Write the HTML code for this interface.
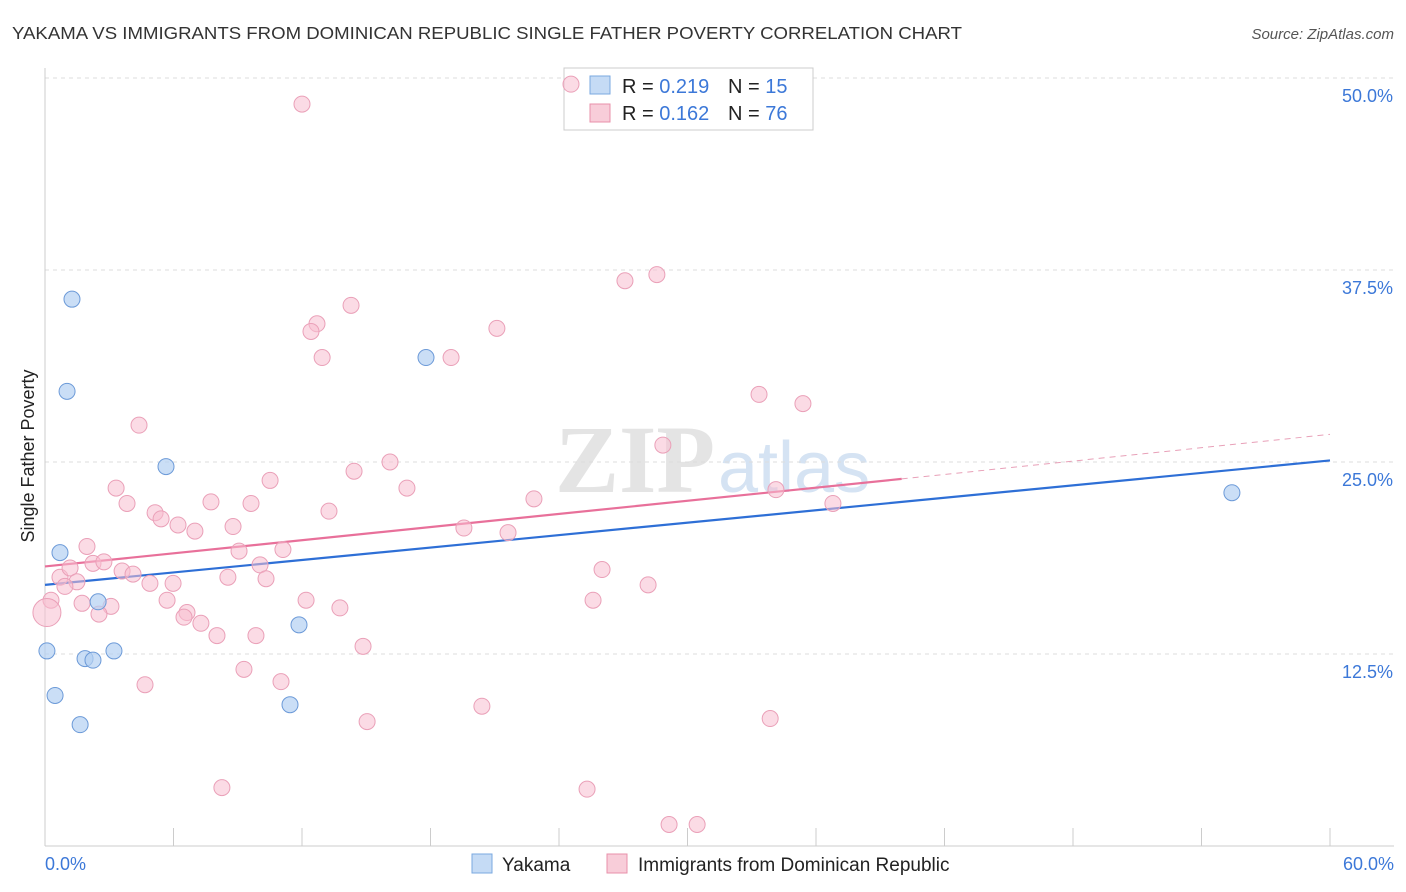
<!DOCTYPE html>
<html><head><meta charset="utf-8"><style>
body{margin:0;background:#fff;font-family:"Liberation Sans",sans-serif;}
svg{display:block}
</style></head><body>
<svg id="chart" width="1406" height="892">
<text x="12" y="39" font-size="17.5" fill="#333" textLength="950" lengthAdjust="spacingAndGlyphs">YAKAMA VS IMMIGRANTS FROM DOMINICAN REPUBLIC SINGLE FATHER POVERTY CORRELATION CHART</text>
<text x="1394" y="39" font-size="15" fill="#555" font-style="italic" text-anchor="end">Source: ZipAtlas.com</text>
<text x="715" y="492" font-size="96" fill="#e4e4e4" text-anchor="end" font-family="Liberation Serif" font-weight="bold">ZIP</text>
<text x="718" y="492" font-size="72" fill="#d5e3f3">atlas</text>
<g id="grid"></g><g id="axes"></g><g id="lines"></g>
<g>
<rect x="564" y="68" width="249" height="62" fill="#fff" stroke="#ccc"/>
<rect x="590" y="76" width="20" height="18" fill="#c5dbf5" stroke="#7aa8e0"/>
<text x="622" y="93" font-size="20" fill="#222">R = <tspan fill="#3c78d8">0.219</tspan></text>
<text x="728" y="93" font-size="20" fill="#222">N = <tspan fill="#3c78d8">15</tspan></text>
<rect x="590" y="104" width="20" height="18" fill="#f8cdd9" stroke="#e890aa"/>
<text x="622" y="120" font-size="20" fill="#222">R = <tspan fill="#3c78d8">0.162</tspan></text>
<text x="728" y="120" font-size="20" fill="#222">N = <tspan fill="#3c78d8">76</tspan></text>
</g>
<g id="pts"></g>
<text transform="translate(34,456) rotate(-90)" font-size="18" fill="#222" text-anchor="middle">Single Father Poverty</text>
<g>
<rect x="472" y="854" width="20" height="19" fill="#c5dbf5" stroke="#7aa8e0"/>
<text x="502" y="871" font-size="19" fill="#222">Yakama</text>
<rect x="607" y="854" width="20" height="19" fill="#f8cdd9" stroke="#e890aa"/>
<text x="638" y="871" font-size="19" fill="#222">Immigrants from Dominican Republic</text>
</g>
</svg>
<script>
const yTicks=[12.5,25,37.5,50];
const yTickLabels=["12.5%","25.0%","37.5%","50.0%"];
const blueX=[1.26,1.03,5.65,0.7,2.48,0.09,1.87,2.24,3.22,0.47,1.64,11.86,11.44,17.79,55.42];
const blueY=[35.6,29.6,24.7,19.1,15.9,12.7,12.2,12.1,12.7,9.8,7.9,14.4,9.2,31.8,23.0];
const pinkX=[12.0,24.56,27.08,28.57,14.29,12.7,12.42,21.1,12.94,18.96,4.39,33.34,35.39,28.85,16.11,14.43,10.51,3.32,16.9,22.83,34.13,3.83,7.75,9.62,36.79,5.14,5.42,6.21,13.26,19.56,21.62,7.0,8.78,1.96,9.06,11.11,0.7,1.17,2.24,2.75,3.6,4.11,10.04,8.54,10.32,4.9,5.98,1.49,0.93,0.28,1.73,3.08,2.52,5.7,12.19,6.63,6.49,7.28,13.77,8.03,9.85,26.01,28.16,25.59,14.85,4.67,9.29,11.02,20.4,15.04,33.86,8.26,25.31,29.14,30.45,0.09];
const pinkY=[48.3,49.6,36.8,37.2,35.2,34.0,33.5,33.7,31.8,31.8,27.4,29.4,28.8,26.1,25.0,24.4,23.8,23.3,23.3,22.6,23.2,22.3,22.4,22.3,22.3,21.7,21.3,20.9,21.8,20.7,20.4,20.5,20.8,19.5,19.2,19.3,17.5,18.1,18.4,18.5,17.9,17.7,18.3,17.5,17.4,17.1,17.1,17.2,16.9,16.0,15.8,15.6,15.1,16.0,16.0,15.2,14.9,14.5,15.5,13.7,13.7,18.0,17.0,16.0,13.0,10.5,11.5,10.7,9.1,8.1,8.3,3.8,3.7,1.4,1.4,15.2];
const blueLine=[[0,17.0],[60,25.1]];
const pinkLine=[[0,18.2],[40,23.9]];
const pinkDash=[[40,23.9],[60,26.8]];
const NS="http://www.w3.org/2000/svg";
const xs=v=>45+v/60*1285, ys=v=>846-v*15.36;
function mk(parent,tag,attrs){const e=document.createElementNS(NS,tag);for(const k in attrs)e.setAttribute(k,attrs[k]);document.getElementById(parent).appendChild(e);return e;}
yTicks.forEach((t,i)=>{
 const l=mk('grid','line',{x1:45,x2:1394,y1:ys(t),y2:ys(t),stroke:'#ddd','stroke-dasharray':'4,4'});
 
 
 const tx=mk('grid','text',{x:1393,y:ys(t)+24,'font-size':18,fill:'#3c78d8','text-anchor':'end'});
 tx.textContent=yTickLabels[i];
 
 
});
const ax=mk('axes','line',{x1:45,x2:1394,y1:846,y2:846,stroke:'#ccc'});


const ay=mk('axes','line',{x1:45,x2:45,y1:68,y2:846,stroke:'#ccc'});


for(let i=0;i<=10;i++){const t=mk('axes','line',{x1:45+i*128.5,x2:45+i*128.5,y1:828,y2:846,stroke:'#ccc'});
 
 }
[["0.0%",45,'start'],["60.0%",1394,'end']].forEach(([s,x,a])=>{const t=mk('axes','text',{x:x,y:870,'font-size':18,fill:'#3c78d8','text-anchor':a});t.textContent=s;
 
 });
function ln(p,c,d,name){const l=mk('lines','line',{x1:xs(p[0][0]),y1:ys(p[0][1]),x2:xs(p[1][0]),y2:ys(p[1][1]),stroke:c,'stroke-width':d?1:2.2,'stroke-dasharray':d?'6,5':''});
 
 }
ln(blueLine,'#2e6fd6',0,'yakama-trend-line');
ln(pinkLine,'#e8709a',0,'dominican-trend-line');
ln(pinkDash,'#e8a0b8',1,'dominican-trend-extension');
pinkX.forEach((x,i)=>{const c=mk('pts','circle',{cx:xs(x),cy:ys(pinkY[i]),r:i==pinkX.length-1?14:8,fill:'rgba(248,190,208,0.55)',stroke:'#eaa0b8','stroke-width':1});
 
 });
blueX.forEach((x,i)=>{const c=mk('pts','circle',{cx:xs(x),cy:ys(blueY[i]),r:8,fill:'rgba(180,208,242,0.7)',stroke:'#6c9ad8','stroke-width':1});
 
 });
</script>
</body></html>
